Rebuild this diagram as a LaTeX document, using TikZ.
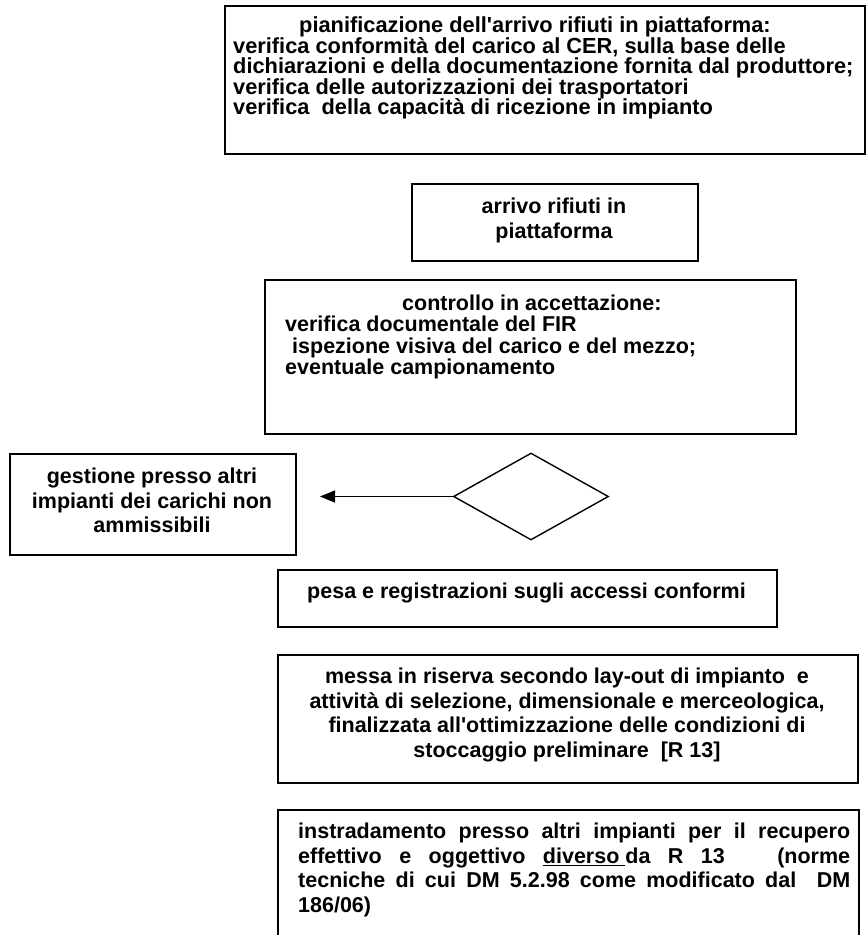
\documentclass[tikz,border=0pt]{standalone}
\usepackage{fontspec}
\setmainfont{Liberation Sans}
\usetikzlibrary{arrows.meta,shapes.geometric}
\begin{document}
\begin{tikzpicture}[x=1pt,y=-1pt,
  box/.style={draw=black, line width=2pt, rectangle, inner sep=0pt, anchor=north west},
  txt/.style={inner sep=0pt},
  fA/.style={font=\fontsize{21.8pt}{20.6pt}\selectfont\bfseries},
  fB/.style={font=\fontsize{21.5pt}{21.5pt}\selectfont\bfseries},
  fC/.style={font=\fontsize{21.5pt}{24.7pt}\selectfont\bfseries},
  thinline/.style={line width=1.4pt}]
\useasboundingbox (0,0) rectangle (866,935);
\fill[white] (0,0) rectangle (866,935);
% boxes
\node[box, minimum width=640pt, minimum height=148pt] (b1) at (224,5) {};
\node[box, minimum width=286pt, minimum height=77pt] (b2) at (411,183) {};
\node[box, minimum width=531pt, minimum height=154pt] (b3) at (264,279) {};
\node[box, minimum width=286pt, minimum height=101pt] (b4) at (9,453) {};
\node[box, minimum width=499pt, minimum height=57pt] (b5) at (277,569) {};
\node[box, minimum width=580pt, minimum height=128pt] (b6) at (277,654) {};
\node[box, minimum width=581pt, minimum height=140pt] (b7) at (277,809) {};
% decision
\node[diamond, draw, thinline, aspect=1.78, minimum width=155pt, minimum height=87pt, inner sep=0pt] (d) at (531,496.5) {};
\coordinate (aend) at (320,496.5);
\draw[thinline, -{Triangle[length=15pt,width=12pt]}] (d.west) -- (aend);
% texts
\node[txt, fA, anchor=north west, align=left] (t1) at (233,16.5)
{\hspace*{66pt}pianificazione dell\textquotesingle arrivo rifiuti in piattaforma:\\
verifica conformità del carico al CER, sulla base delle\\
dichiarazioni e della documentazione fornita dal produttore;\\
verifica delle autorizzazioni dei trasportatori\\
verifica\ \ della capacità di ricezione in impianto};
\node[txt, fC, anchor=north, align=center] (t2) at (554,197.7) {arrivo rifiuti in\\piattaforma};
\node[txt, fB, anchor=north west, align=left] (t3) at (285,294.7)
{\hspace*{117pt}controllo in accettazione:\\
verifica documentale del FIR\\
\hspace*{7pt}ispezione visiva del carico e del mezzo;\\
eventuale campionamento};
\node[txt, fC, anchor=north, align=center] (t4) at (152,467.7)
{gestione presso altri\\impianti dei carichi non\\ammissibili};
\node[txt, fC, anchor=north, align=center] (t5) at (526.5,582.7)
{pesa e registrazioni sugli accessi conformi};
\node[txt, fC, anchor=north, align=center] (t6) at (567,667.7)
{messa in riserva secondo lay-out di impianto\ \ e\\
attività di selezione, dimensionale e merceologica,\\
finalizzata all\textquotesingle ottimizzazione delle condizioni di\\
stoccaggio preliminare\ \ [R 13]};
\node[txt, fC, anchor=north west, align=left] (t7) at (298,822.7)
{\makebox[552pt][s]{instradamento presso altri impianti per il recupero}\\
\makebox[552pt][s]{effettivo e oggettivo \underline{diverso\ }da R 13\ \ \ (norme}\\
\makebox[552pt][s]{tecniche di cui DM 5.2.98 come modificato dal\ \ DM}\\
186/06)};
\end{tikzpicture}
\end{document}
